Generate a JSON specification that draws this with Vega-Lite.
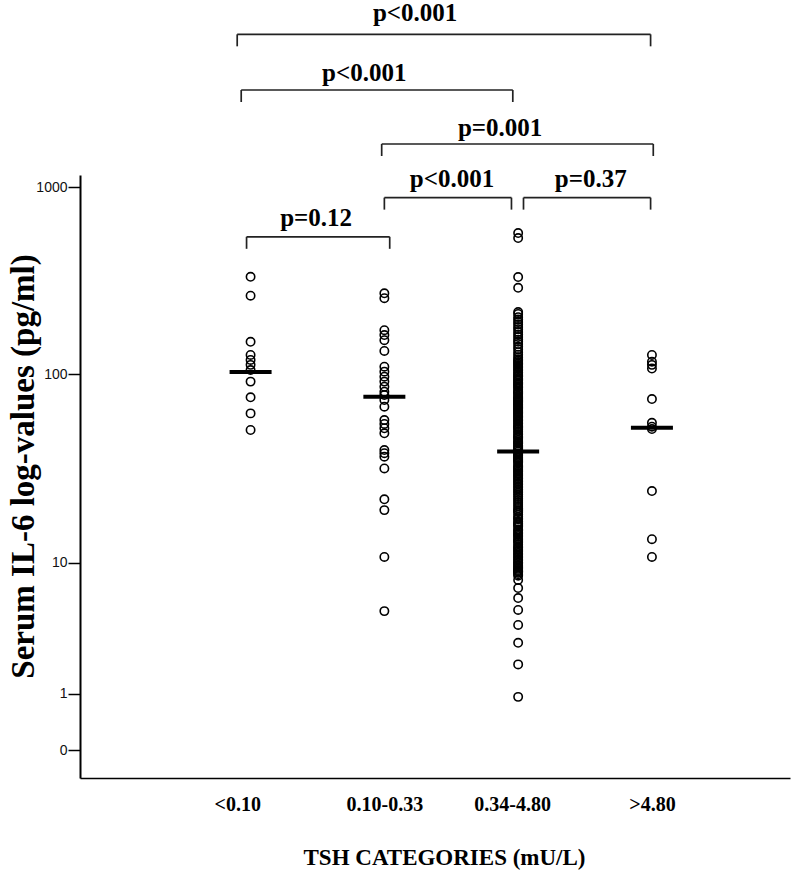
{
  "$schema": "https://vega.github.io/schema/vega-lite/v6.json",
  "width": 710,
  "height": 778,
  "autosize": "none",
  "padding": {"left": 80, "top": 0, "right": 3, "bottom": 96},
  "background": "white",
  "config": {"view": {"stroke": null}, "axis": {"grid": false}},
  "datasets": {
    "points": [
      {"tsh": 1, "il6": 332}, {"tsh": 1, "il6": 263}, {"tsh": 1, "il6": 149}, {"tsh": 1, "il6": 126.6}, {"tsh": 1, "il6": 119}, {"tsh": 1, "il6": 112}, {"tsh": 1, "il6": 105}, {"tsh": 1, "il6": 91}, {"tsh": 1, "il6": 74.9}, {"tsh": 1, "il6": 61.3}, {"tsh": 1, "il6": 49.8},
      {"tsh": 2, "il6": 271}, {"tsh": 2, "il6": 255}, {"tsh": 2, "il6": 172}, {"tsh": 2, "il6": 162}, {"tsh": 2, "il6": 152}, {"tsh": 2, "il6": 133}, {"tsh": 2, "il6": 109.5}, {"tsh": 2, "il6": 103}, {"tsh": 2, "il6": 96.7}, {"tsh": 2, "il6": 91}, {"tsh": 2, "il6": 85.4}, {"tsh": 2, "il6": 80.3}, {"tsh": 2, "il6": 77}, {"tsh": 2, "il6": 72.4}, {"tsh": 2, "il6": 66.6}, {"tsh": 2, "il6": 56.4}, {"tsh": 2, "il6": 53.7}, {"tsh": 2, "il6": 50.9}, {"tsh": 2, "il6": 47.8}, {"tsh": 2, "il6": 38.7}, {"tsh": 2, "il6": 37.2}, {"tsh": 2, "il6": 35.6}, {"tsh": 2, "il6": 30.7}, {"tsh": 2, "il6": 20.7}, {"tsh": 2, "il6": 18.0}, {"tsh": 2, "il6": 9.7}, {"tsh": 2, "il6": 4.5},
      {"tsh": 3, "il6": 569}, {"tsh": 3, "il6": 535}, {"tsh": 3, "il6": 331}, {"tsh": 3, "il6": 290},
      {"tsh": 3, "il6": 215}, {"tsh": 3, "il6": 210}, {"tsh": 3, "il6": 202}, {"tsh": 3, "il6": 196}, {"tsh": 3, "il6": 190}, {"tsh": 3, "il6": 185}, {"tsh": 3, "il6": 179}, {"tsh": 3, "il6": 174}, {"tsh": 3, "il6": 168}, {"tsh": 3, "il6": 163}, {"tsh": 3, "il6": 158}, {"tsh": 3, "il6": 153}, {"tsh": 3, "il6": 149}, {"tsh": 3, "il6": 145}, {"tsh": 3, "il6": 140}, {"tsh": 3, "il6": 136}, {"tsh": 3, "il6": 131}, {"tsh": 3, "il6": 127}, {"tsh": 3, "il6": 123}, {"tsh": 3, "il6": 120},
      {"tsh": 3, "il6": 118}, {"tsh": 3, "il6": 116}, {"tsh": 3, "il6": 114}, {"tsh": 3, "il6": 112}, {"tsh": 3, "il6": 110}, {"tsh": 3, "il6": 108}, {"tsh": 3, "il6": 106}, {"tsh": 3, "il6": 104}, {"tsh": 3, "il6": 102}, {"tsh": 3, "il6": 98}, {"tsh": 3, "il6": 97}, {"tsh": 3, "il6": 95}, {"tsh": 3, "il6": 93.5}, {"tsh": 3, "il6": 92}, {"tsh": 3, "il6": 89}, {"tsh": 3, "il6": 87.5}, {"tsh": 3, "il6": 86}, {"tsh": 3, "il6": 84.5}, {"tsh": 3, "il6": 83}, {"tsh": 3, "il6": 80}, {"tsh": 3, "il6": 79}, {"tsh": 3, "il6": 78}, {"tsh": 3, "il6": 76}, {"tsh": 3, "il6": 75}, {"tsh": 3, "il6": 74}, {"tsh": 3, "il6": 73}, {"tsh": 3, "il6": 72}, {"tsh": 3, "il6": 70}, {"tsh": 3, "il6": 69}, {"tsh": 3, "il6": 68}, {"tsh": 3, "il6": 67}, {"tsh": 3, "il6": 66}, {"tsh": 3, "il6": 65}, {"tsh": 3, "il6": 64}, {"tsh": 3, "il6": 63}, {"tsh": 3, "il6": 62}, {"tsh": 3, "il6": 60}, {"tsh": 3, "il6": 59}, {"tsh": 3, "il6": 58}, {"tsh": 3, "il6": 57}, {"tsh": 3, "il6": 56}, {"tsh": 3, "il6": 55}, {"tsh": 3, "il6": 54}, {"tsh": 3, "il6": 53}, {"tsh": 3, "il6": 52}, {"tsh": 3, "il6": 51.5}, {"tsh": 3, "il6": 50}, {"tsh": 3, "il6": 49}, {"tsh": 3, "il6": 48}, {"tsh": 3, "il6": 47}, {"tsh": 3, "il6": 46}, {"tsh": 3, "il6": 45}, {"tsh": 3, "il6": 44}, {"tsh": 3, "il6": 43}, {"tsh": 3, "il6": 42.5}, {"tsh": 3, "il6": 42}, {"tsh": 3, "il6": 41}, {"tsh": 3, "il6": 40}, {"tsh": 3, "il6": 39.5}, {"tsh": 3, "il6": 39}, {"tsh": 3, "il6": 38}, {"tsh": 3, "il6": 37}, {"tsh": 3, "il6": 36.5}, {"tsh": 3, "il6": 36}, {"tsh": 3, "il6": 35}, {"tsh": 3, "il6": 34.5}, {"tsh": 3, "il6": 34}, {"tsh": 3, "il6": 33.5}, {"tsh": 3, "il6": 33}, {"tsh": 3, "il6": 32}, {"tsh": 3, "il6": 31.5}, {"tsh": 3, "il6": 31}, {"tsh": 3, "il6": 30}, {"tsh": 3, "il6": 29.5}, {"tsh": 3, "il6": 29}, {"tsh": 3, "il6": 28.5}, {"tsh": 3, "il6": 28}, {"tsh": 3, "il6": 27.5}, {"tsh": 3, "il6": 27}, {"tsh": 3, "il6": 26.5}, {"tsh": 3, "il6": 26}, {"tsh": 3, "il6": 25}, {"tsh": 3, "il6": 24.5}, {"tsh": 3, "il6": 24}, {"tsh": 3, "il6": 23.5}, {"tsh": 3, "il6": 23}, {"tsh": 3, "il6": 22.5}, {"tsh": 3, "il6": 22}, {"tsh": 3, "il6": 21.5}, {"tsh": 3, "il6": 21}, {"tsh": 3, "il6": 20}, {"tsh": 3, "il6": 19.5}, {"tsh": 3, "il6": 19}, {"tsh": 3, "il6": 18.5}, {"tsh": 3, "il6": 18}, {"tsh": 3, "il6": 17.8}, {"tsh": 3, "il6": 17.5}, {"tsh": 3, "il6": 17}, {"tsh": 3, "il6": 16.5}, {"tsh": 3, "il6": 16.2}, {"tsh": 3, "il6": 16}, {"tsh": 3, "il6": 15.5}, {"tsh": 3, "il6": 15}, {"tsh": 3, "il6": 14.8}, {"tsh": 3, "il6": 14.5}, {"tsh": 3, "il6": 14}, {"tsh": 3, "il6": 13.8}, {"tsh": 3, "il6": 13.5}, {"tsh": 3, "il6": 13.2}, {"tsh": 3, "il6": 13}, {"tsh": 3, "il6": 12.8}, {"tsh": 3, "il6": 12.5}, {"tsh": 3, "il6": 12}, {"tsh": 3, "il6": 11.8}, {"tsh": 3, "il6": 11.5}, {"tsh": 3, "il6": 11.2}, {"tsh": 3, "il6": 11}, {"tsh": 3, "il6": 10.8}, {"tsh": 3, "il6": 10.6}, {"tsh": 3, "il6": 10.4}, {"tsh": 3, "il6": 10.2}, {"tsh": 3, "il6": 9.8}, {"tsh": 3, "il6": 9.6}, {"tsh": 3, "il6": 9.4}, {"tsh": 3, "il6": 9.2}, {"tsh": 3, "il6": 9}, {"tsh": 3, "il6": 8.9}, {"tsh": 3, "il6": 8.7}, {"tsh": 3, "il6": 8.55}, {"tsh": 3, "il6": 8.4}, {"tsh": 3, "il6": 8.25}, {"tsh": 3, "il6": 8.1}, {"tsh": 3, "il6": 7.95}, {"tsh": 3, "il6": 7.8}, {"tsh": 3, "il6": 7.65}, {"tsh": 3, "il6": 7.5},
      {"tsh": 3, "il6": 100}, {"tsh": 3, "il6": 90}, {"tsh": 3, "il6": 81}, {"tsh": 3, "il6": 71}, {"tsh": 3, "il6": 61}, {"tsh": 3, "il6": 51}, {"tsh": 3, "il6": 45.5}, {"tsh": 3, "il6": 40.5}, {"tsh": 3, "il6": 35.5}, {"tsh": 3, "il6": 30.5}, {"tsh": 3, "il6": 25.5}, {"tsh": 3, "il6": 20.5}, {"tsh": 3, "il6": 15.2}, {"tsh": 3, "il6": 12.2}, {"tsh": 3, "il6": 10}, {"tsh": 3, "il6": 8},
      {"tsh": 3, "il6": 7.06}, {"tsh": 3, "il6": 6.3}, {"tsh": 3, "il6": 5.46}, {"tsh": 3, "il6": 4.58}, {"tsh": 3, "il6": 3.64}, {"tsh": 3, "il6": 2.73}, {"tsh": 3, "il6": 1.86}, {"tsh": 3, "il6": 0.92},
      {"tsh": 4, "il6": 126.6}, {"tsh": 4, "il6": 116.5}, {"tsh": 4, "il6": 112}, {"tsh": 4, "il6": 107}, {"tsh": 4, "il6": 73.3}, {"tsh": 4, "il6": 54.5}, {"tsh": 4, "il6": 51.9}, {"tsh": 4, "il6": 50.4}, {"tsh": 4, "il6": 23.0}, {"tsh": 4, "il6": 12.3}, {"tsh": 4, "il6": 9.7}
    ],
    "medians": [
      {"tsh": 1, "il6": 102.6}, {"tsh": 2, "il6": 75.4}, {"tsh": 3, "il6": 38}, {"tsh": 4, "il6": 51.2}
    ],
    "brackets": [
      {"x1": 0.9, "x2": 3.99, "h": 6530, "tx": 2.23, "th": 8453, "label": "p<0.001"},
      {"x1": 0.93, "x2": 2.96, "h": 3297, "tx": 1.85, "th": 4048, "label": "p<0.001"},
      {"x1": 1.98, "x2": 4.01, "h": 1699, "tx": 2.865, "th": 2061, "label": "p=0.001"},
      {"x1": 2.0, "x2": 2.95, "h": 879, "tx": 2.506, "th": 1106, "label": "p<0.001"},
      {"x1": 3.04, "x2": 3.99, "h": 879, "tx": 3.543, "th": 1106, "label": "p=0.37"},
      {"x1": 0.97, "x2": 2.04, "h": 543, "tx": 1.49, "th": 685, "label": "p=0.12"}
    ]
  },
  "layer": [
    {
      "layer": [
        {
          "data": {"name": "points"},
          "mark": {"type": "point", "shape": "circle", "filled": false, "size": 70, "strokeWidth": 1.6, "color": "black", "opacity": 1},
          "encoding": {
            "x": {
              "field": "tsh", "type": "quantitative", "title": "TSH CATEGORIES (mU/L)",
              "scale": {"domain": [-0.275, 5.032], "nice": false, "zero": false},
              "axis": {
                "values": [0.9, 2, 2.955, 4],
                "labelExpr": "datum.value < 1.5 ? '<0.10' : datum.value < 2.5 ? '0.10-0.33' : datum.value < 3.5 ? '0.34-4.80' : '>4.80'",
                "ticks": false, "labelPadding": 16, "labelOverlap": false,
                "labelFont": "Liberation Serif", "labelFontWeight": "bold", "labelFontSize": 20, "labelColor": "black",
                "domainColor": "black", "domainWidth": 1.5,
                "titleFont": "Liberation Serif", "titleFontWeight": "bold", "titleFontSize": 23, "titleColor": "black",
                "titleX": 364, "titleY": 79, "titleBaseline": "middle"
              }
            },
            "y": {
              "field": "il6", "type": "quantitative", "title": "Serum IL-6 log-values (pg/ml)",
              "scale": {"type": "symlog", "constant": 1, "domain": [-0.41, 1161], "range": [778, 175], "nice": false, "zero": false},
              "axis": {
                "values": [0, 1, 8.93, 100, 1000],
                "labelExpr": "datum.value > 5 && datum.value < 50 ? '10' : format(datum.value, 'd')",
                "labelFont": "Liberation Sans", "labelFontSize": 14, "labelColor": "#111", "labelPadding": 1,
                "tickSize": 12, "tickWidth": 1.5, "tickColor": "black",
                "domainColor": "black", "domainWidth": 2,
                "titleFont": "Liberation Serif", "titleFontWeight": "bold", "titleFontSize": 33, "titleColor": "black",
                "titleX": -57, "titleY": 466, "titleBaseline": "middle"
              }
            }
          }
        },
        {
          "data": {"name": "medians"},
          "mark": {"type": "tick", "orient": "horizontal", "size": 42, "thickness": 4, "color": "black", "opacity": 1},
          "encoding": {
            "x": {"field": "tsh", "type": "quantitative", "title": "TSH CATEGORIES (mU/L)"},
            "y": {"field": "il6", "type": "quantitative", "title": "Serum IL-6 log-values (pg/ml)"}
          }
        }
      ]
    },
    {
      "data": {"name": "brackets"},
      "layer": [
        {
          "mark": {"type": "rule", "strokeWidth": 1.7, "color": "#222"},
          "encoding": {
            "x": {"field": "x1", "type": "quantitative", "title": "TSH CATEGORIES (mU/L)"},
            "x2": {"field": "x2"},
            "y": {"field": "h", "type": "quantitative", "axis": null,
                  "scale": {"type": "symlog", "constant": 1, "domain": [-0.41, 9952], "nice": false, "zero": false}}
          }
        },
        {
          "mark": {"type": "rule", "strokeWidth": 1.7, "color": "#222", "y2Offset": 12},
          "encoding": {
            "x": {"field": "x1", "type": "quantitative", "title": "TSH CATEGORIES (mU/L)"},
            "y": {"field": "h", "type": "quantitative", "axis": null},
            "y2": {"field": "h"}
          }
        },
        {
          "mark": {"type": "rule", "strokeWidth": 1.7, "color": "#222", "y2Offset": 12},
          "encoding": {
            "x": {"field": "x2", "type": "quantitative", "title": "TSH CATEGORIES (mU/L)"},
            "y": {"field": "h", "type": "quantitative", "axis": null},
            "y2": {"field": "h"}
          }
        },
        {
          "mark": {"type": "text", "font": "Liberation Serif", "fontWeight": "bold", "fontSize": 25, "baseline": "middle", "align": "center", "color": "black"},
          "encoding": {
            "x": {"field": "tx", "type": "quantitative", "title": "TSH CATEGORIES (mU/L)"},
            "y": {"field": "th", "type": "quantitative", "axis": null},
            "text": {"field": "label"}
          }
        }
      ]
    }
  ],
  "resolve": {"scale": {"y": "independent"}, "axis": {"y": "independent"}}
}
